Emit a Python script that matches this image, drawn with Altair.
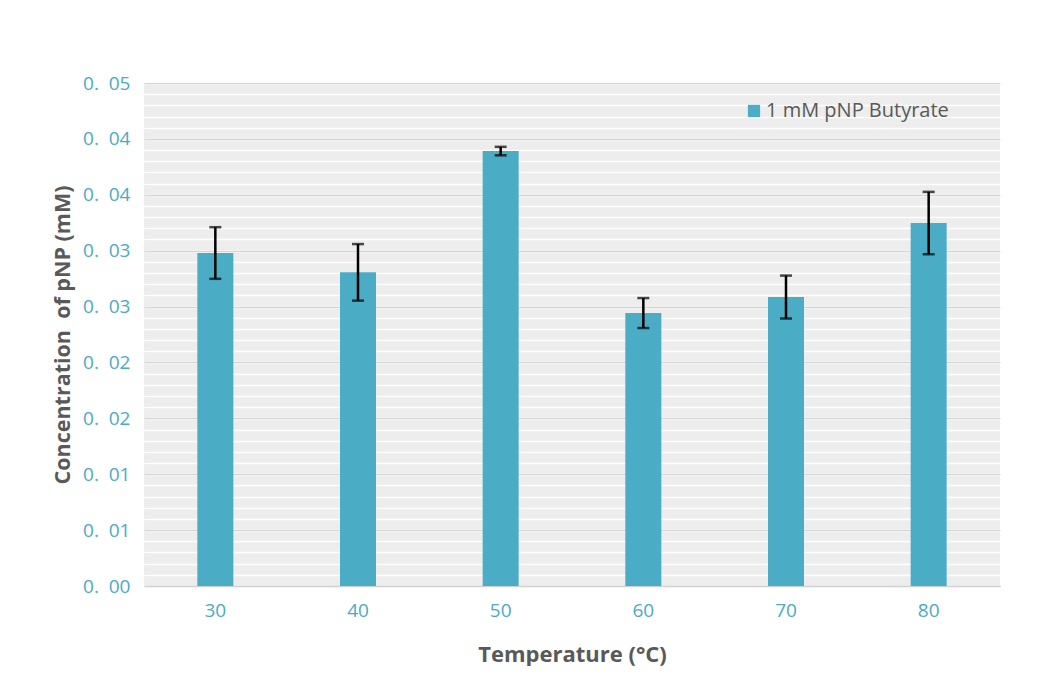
import json
import altair as alt
import pandas as pd

temperatures = ["30", "40", "50", "60", "70", "80"]
concentrations = [0.02979, 0.02806, 0.03891, 0.02442, 0.02585, 0.03247]
errors = [0.00231, 0.00253, 0.00038, 0.00134, 0.00192, 0.00279]
series_name = "1 mM pNP Butyrate"

y_tick_values = [0.0, 0.005, 0.01, 0.015, 0.02, 0.025, 0.03, 0.035, 0.04, 0.045]
y_tick_labels = ["0.\u00a0\u00a000", "0.\u00a0\u00a001", "0.\u00a0\u00a001", "0.\u00a0\u00a002",
                 "0.\u00a0\u00a002", "0.\u00a0\u00a003", "0.\u00a0\u00a003", "0.\u00a0\u00a004",
                 "0.\u00a0\u00a004", "0.\u00a0\u00a005"]
minor_values = [round(i * 0.001, 3) for i in range(46)]

df = pd.DataFrame({
    "temp": temperatures,
    "conc": concentrations,
    "lo": [c - e for c, e in zip(concentrations, errors)],
    "hi": [c + e for c, e in zip(concentrations, errors)],
    "series": [series_name] * len(temperatures),
})

FONT = "Open Sans"
LABEL_COLOR = "#4aabc5"
TITLE_COLOR = "#595959"
BAR_COLOR = "#4bacc6"

x_enc = alt.X(
    "temp:N", sort=temperatures,
    scale=alt.Scale(paddingInner=0.75, paddingOuter=0.375),
    axis=alt.Axis(
        title="Temperature (°C)", labelAngle=0, ticks=False, tickSize=0,
        labelPadding=15, labelFontSize=19, labelColor=LABEL_COLOR, labelFont=FONT,
        titleFont=FONT, titleFontSize=22, titleFontWeight="bold", titleColor=TITLE_COLOR,
        titlePadding=24, domainColor="#d0d0d0", domainWidth=1.5, grid=False,
    ),
)

y_scale = alt.Scale(domain=[0, 0.045], nice=False, zero=True)

label_expr = json.dumps(y_tick_labels, ensure_ascii=False) + "[round(datum.value / 0.005)]"

bars = alt.Chart(df).mark_bar(size=36).encode(
    x=x_enc,
    y=alt.Y("conc:Q", scale=y_scale,
            axis=alt.Axis(values=minor_values, grid=True, gridColor="#ffffff",
                          gridWidth=1.3, labels=False, ticks=False, domain=False,
                          title=None, orient="left")),
    color=alt.Color("series:N",
                    scale=alt.Scale(domain=[series_name], range=[BAR_COLOR]),
                    legend=alt.Legend(title=None, orient="none", legendX=600, legendY=18,
                                      symbolType="square", symbolSize=150,
                                      symbolStrokeWidth=0, labelFont=FONT,
                                      labelFontSize=20, labelColor=TITLE_COLOR,
                                      labelOffset=2, labelLimit=0)),
)

rules = alt.Chart(df).mark_rule(color="black", strokeWidth=2.5).encode(
    x=x_enc,
    y=alt.Y("lo:Q", scale=y_scale,
            axis=alt.Axis(values=y_tick_values, labelExpr=label_expr, grid=True,
                          gridColor="#d4d4d4", gridWidth=1.2, ticks=False, tickSize=0,
                          domain=False, labelPadding=14, labelFontSize=19,
                          labelColor=LABEL_COLOR, labelFont=FONT,
                          title="Concentration\u00a0 of pNP (mM)", titleFont=FONT,
                          titleFontSize=21.5, titleFontWeight="bold",
                          titleColor=TITLE_COLOR, titlePadding=8, orient="left")),
    y2="hi:Q",
)

caps_lo = alt.Chart(df).mark_tick(color="black", thickness=2.5, size=12).encode(
    x=x_enc, y=alt.Y("lo:Q", scale=y_scale, axis=None))
caps_hi = alt.Chart(df).mark_tick(color="black", thickness=2.5, size=12).encode(
    x=x_enc, y=alt.Y("hi:Q", scale=y_scale, axis=None))

chart = (
    alt.layer(bars, rules, caps_lo, caps_hi)
    .resolve_axis(y="independent")
    .properties(
        width=856, height=503,
        autosize=alt.AutoSizeParams(type="none"),
        padding={"left": 136, "top": 75, "right": 40, "bottom": 80},
        background="white",
    )
    .configure_view(fill="#ededed", stroke=None)
)

chart.save("out.html", embed_options={"renderer": "svg", "actions": False})
